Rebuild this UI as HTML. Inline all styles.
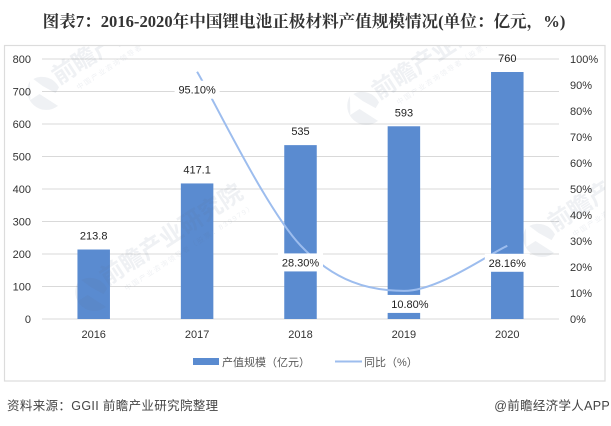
<!DOCTYPE html>
<html lang="zh">
<head>
<meta charset="utf-8">
<title>图表7</title>
<style>
html,body{margin:0;padding:0;background:#fff;}
#wrap{position:relative;width:611px;height:426px;overflow:hidden;background:#fff;}
svg{position:absolute;left:0;top:0;}
text{font-family:"Liberation Sans","Noto Sans CJK SC",sans-serif;}
</style>
</head>
<body>
<div id="wrap">
<svg id="chart" width="611" height="426" viewBox="0 0 611 426" xmlns="http://www.w3.org/2000/svg">
  <defs>
    <clipPath id="frame-clip"><rect x="5" y="46" width="600" height="335"/></clipPath>
    <g id="wm" font-weight="700">
      <path d="M-2 -19 A19 19 0 0 0 8 17 L-1 -3 L-12 -3 Z"/>
      <path d="M2 -19 A19 19 0 0 1 19 2 L13 5 L6 -8 Z"/>
      <text x="20" y="0" font-size="23.5">前瞻产业研究院</text>
      <text x="34" y="15" font-size="7" font-weight="400" letter-spacing="1.6">中国产业咨询领导者（股票：839979）</text>
    </g>
  </defs>
  <text x="304" y="27" text-anchor="middle" font-size="16.6" font-weight="700" fill="#333" style="font-family:'Liberation Serif','Noto Serif CJK SC',serif">图表7：2016-2020年中国锂电池正极材料产值规模情况(单位：亿元，%)</text>
  <rect x="4.5" y="45.5" width="600.5" height="335.5" fill="#fff" stroke="#dcdcdc" stroke-width="1.2"/>
  <g id="grid"></g>
  <g id="bars"></g>
  <g id="marks" clip-path="url(#frame-clip)" fill="#5a6e8c" opacity="0.1">
    <use href="#wm" transform="translate(42,96) rotate(-33)"/>
    <use href="#wm" transform="translate(90,297) rotate(-33)"/>
    <use href="#wm" transform="translate(362,111) rotate(-33)"/>
    <use href="#wm" transform="translate(538,243) rotate(-33)"/>
  </g>
  <g id="xticks"></g>
  <g id="lticks"></g>
  <g id="rticks"></g>
  <path id="line" fill="none" stroke="#9dbdee" stroke-width="2" stroke-linecap="butt"/>
  <g id="labels"></g>
  <g>
    <rect x="193" y="358" width="26" height="7" fill="#5a8bd0"/>
    <text x="222" y="366" font-size="11" fill="#595959">产值规模（亿元）</text>
    <line x1="335" y1="361.5" x2="362" y2="361.5" stroke="#9dbdee" stroke-width="2"/>
    <text x="364" y="366" font-size="11" fill="#595959">同比（%）</text>
  </g>
  <text x="7" y="410" font-size="12.5" letter-spacing="0.35" fill="#444">资料来源：GGII 前瞻产业研究院整理</text>
  <text x="610" y="410" text-anchor="end" font-size="12.5" letter-spacing="0.3" fill="#444">@前瞻经济学人APP</text>
</svg>
</div>
<script>
const categories = ['2016', '2017', '2018', '2019', '2020'];
const outputValues = [213.8, 417.1, 535, 593, 760];
const outputLabels = ['213.8', '417.1', '535', '593', '760'];
const growthValues = [null, 95.10, 28.30, 10.80, 28.16];
const growthLabels = ['', '95.10%', '28.30%', '10.80%', '28.16%'];
const leftTicks = [0, 100, 200, 300, 400, 500, 600, 700, 800];
const rightTicks = [0, 10, 20, 30, 40, 50, 60, 70, 80, 90, 100];

const NS = 'http://www.w3.org/2000/svg';
const plot = {left: 42, right: 559, top: 59, bottom: 319};
const leftMax = 800;
const rightMax = 100;
const barWidth = 32.5;
const labelShift = [0, 0, 0, 6, 0];
const labelOffset = [0, 18, 17, 13, 17];

function xScale(i) {
  return plot.left + (i + 0.5) * (plot.right - plot.left) / categories.length;
}
function yLeft(v) {
  return plot.bottom - v / leftMax * (plot.bottom - plot.top);
}
function yRight(v) {
  return plot.bottom - v / rightMax * (plot.bottom - plot.top);
}
function make(tag, attrs, text) {
  const el = document.createElementNS(NS, tag);
  for (const k in attrs) el.setAttribute(k, attrs[k]);
  if (text !== undefined) el.textContent = text;
  return el;
}

const gridG = document.getElementById('grid');
const barsG = document.getElementById('bars');
const xG = document.getElementById('xticks');
const lG = document.getElementById('lticks');
const rG = document.getElementById('rticks');
const labelsG = document.getElementById('labels');

leftTicks.forEach(function (t) {
  const y = yLeft(t);
  const ln = make('line', {x1: plot.left, x2: plot.right, y1: y, y2: y, stroke: '#d9d9d9', 'stroke-width': 1.1});
  
  
  gridG.appendChild(ln);
  const tx = make('text', {x: 31, y: y + 4, 'text-anchor': 'end', 'font-size': 11, fill: '#333'}, String(t));
  
  
  lG.appendChild(tx);
});

rightTicks.forEach(function (t) {
  const tx = make('text', {x: 570, y: yRight(t) + 4, 'font-size': 11, fill: '#333'}, t + '%');
  
  
  rG.appendChild(tx);
});

categories.forEach(function (c, i) {
  const x = xScale(i);
  const y = yLeft(outputValues[i]);
  const bar = make('rect', {x: x - barWidth / 2, y: y, width: barWidth, height: plot.bottom - y, fill: '#5a8bd0'});
  
  
  barsG.appendChild(bar);
  const tx = make('text', {x: x, y: 338, 'text-anchor': 'middle', 'font-size': 11, fill: '#333'}, c);
  
  
  xG.appendChild(tx);
  const val = make('text', {x: x, y: y - 10, 'text-anchor': 'middle', 'font-size': 11, fill: '#222'}, outputLabels[i]);
  
  
  labelsG.appendChild(val);
});

const pts = [];
growthValues.forEach(function (v, i) {
  if (v !== null) pts.push([xScale(i), yRight(v)]);
});
let d = 'M' + pts[0][0] + ' ' + pts[0][1];
for (let i = 0; i < pts.length - 1; i++) {
  const p0 = pts[Math.max(i - 1, 0)];
  const p1 = pts[i];
  const p2 = pts[i + 1];
  const p3 = pts[Math.min(i + 2, pts.length - 1)];
  const k = 1 / 6;
  d += ' C' + (p1[0] + (p2[0] - p0[0]) * k) + ' ' + (p1[1] + (p2[1] - p0[1]) * k) +
       ' ' + (p2[0] - (p3[0] - p1[0]) * k) + ' ' + (p2[1] - (p3[1] - p1[1]) * k) +
       ' ' + p2[0] + ' ' + p2[1];
}
document.getElementById('line').setAttribute('d', d);

growthValues.forEach(function (v, i) {
  if (v === null) return;
  const cx = xScale(i) + labelShift[i];
  const cy = yRight(v) + labelOffset[i];
  const box = make('rect', {x: cx - 22.5, y: cy - 9, width: 45, height: 18, fill: '#fff'});
  
  
  labelsG.appendChild(box);
  const tx = make('text', {x: cx, y: cy + 4, 'text-anchor': 'middle', 'font-size': 11, fill: '#222'}, growthLabels[i]);
  
  
  labelsG.appendChild(tx);
});
</script>
</body>
</html>
